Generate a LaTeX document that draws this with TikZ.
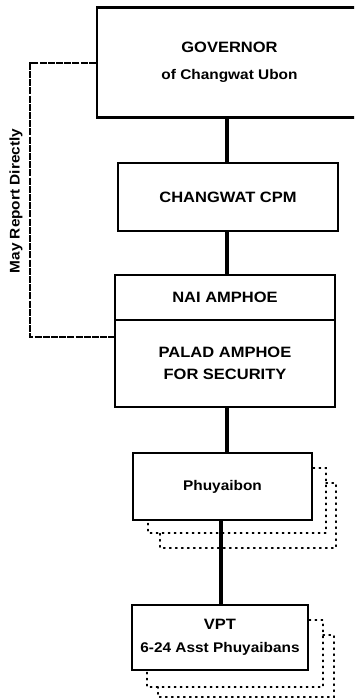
\documentclass[tikz,border=0pt]{standalone}
\usepackage{fontspec}
\setmainfont[FakeStretch=1.1]{Liberation Sans}
\begin{document}
\begin{tikzpicture}[x=1pt,y=-1pt,
  box/.style={draw,line width=2.4pt,align=center,inner sep=0pt,font=\bfseries\fontsize{15}{22}\selectfont},
  small/.style={font=\bfseries\fontsize{14}{20}\selectfont},
  link/.style={line width=3.8pt},
  dashlink/.style={line width=2.8pt,dash pattern=on 7pt off 1.2pt},
  shadow/.style={line width=1.5pt,dash pattern=on 1.4pt off 4.6pt,line cap=round}]
\useasboundingbox (0,0) rectangle (354,700);
\clip (0,0) rectangle (354,700);
\fill[white] (0,0) rectangle (354,700);
% boxes
\node[box,minimum width=265pt,minimum height=110pt] (gov) at (229.5,62.5) {GOVERNOR\\[5pt]{\fontsize{14}{20}\selectfont of Changwat Ubon}};
\node[box,minimum width=220pt,minimum height=68pt] (cpm) at (228,197) {CHANGWAT CPM};
\node[box,minimum width=220pt,minimum height=45pt] (nai) at (225,297.5) {NAI AMPHOE};
\node[box,minimum width=220pt,minimum height=87pt] (palad) at (225,363.5) {PALAD AMPHOE\\FOR SECURITY};
\node[box,small,minimum width=179pt,minimum height=67pt] (phu) at (222.5,486.5) {Phuyaibon};
\node[box,minimum width=176pt,minimum height=65pt] (vpt) at (220,637.5) {VPT\\[1pt]{\fontsize{14}{20}\selectfont 6-24 Asst Phuyaibans}};
% solid links
\draw[link] (cpm.north -| 227,0) -- (gov.south -| 227,0);
\draw[link] (cpm.south -| 227,0) -- (nai.north -| 227,0);
\draw[link] (palad.south -| 227,0) -- (phu.north -| 227,0);
\draw[link] (phu.south -| 221,0) -- (vpt.north -| 221,0);
% dashed report line
\coordinate (c1) at (30,63);
\coordinate (c2) at (30,337);
\draw[dashlink] (gov.west |- c1) -- (c1) -- (c2) -- (palad.west |- c2);
\node[rotate=90,small] (lbl) at (16,201) {May Report Directly};
% dotted shadows
\coordinate (p1a) at (phu.east |- 0,468);
\coordinate (p1b) at (326,468);
\coordinate (p1c) at (326,533);
\coordinate (p1d) at (148,533);
\draw[shadow] (p1a) -- (p1b) -- (p1c) -- (p1d) -- (p1d |- phu.south);
\coordinate (p2a) at (p1b |- 0,483);
\coordinate (p2b) at (336,483);
\coordinate (p2c) at (336,548);
\coordinate (p2d) at (160,548);
\draw[shadow] (p2a) -- (p2b) -- (p2c) -- (p2d) -- (p2d |- p1d);
\coordinate (v1a) at (vpt.east |- 0,620);
\coordinate (v1b) at (323,620);
\coordinate (v1c) at (323,687);
\coordinate (v1d) at (147,687);
\draw[shadow] (v1a) -- (v1b) -- (v1c) -- (v1d) -- (v1d |- vpt.south);
\coordinate (v2a) at (v1b |- 0,635);
\coordinate (v2b) at (334,635);
\coordinate (v2c) at (334,697);
\coordinate (v2d) at (158,697);
\draw[shadow] (v2a) -- (v2b) -- (v2c) -- (v2d) -- (v2d |- v1d);
\end{tikzpicture}
\end{document}
